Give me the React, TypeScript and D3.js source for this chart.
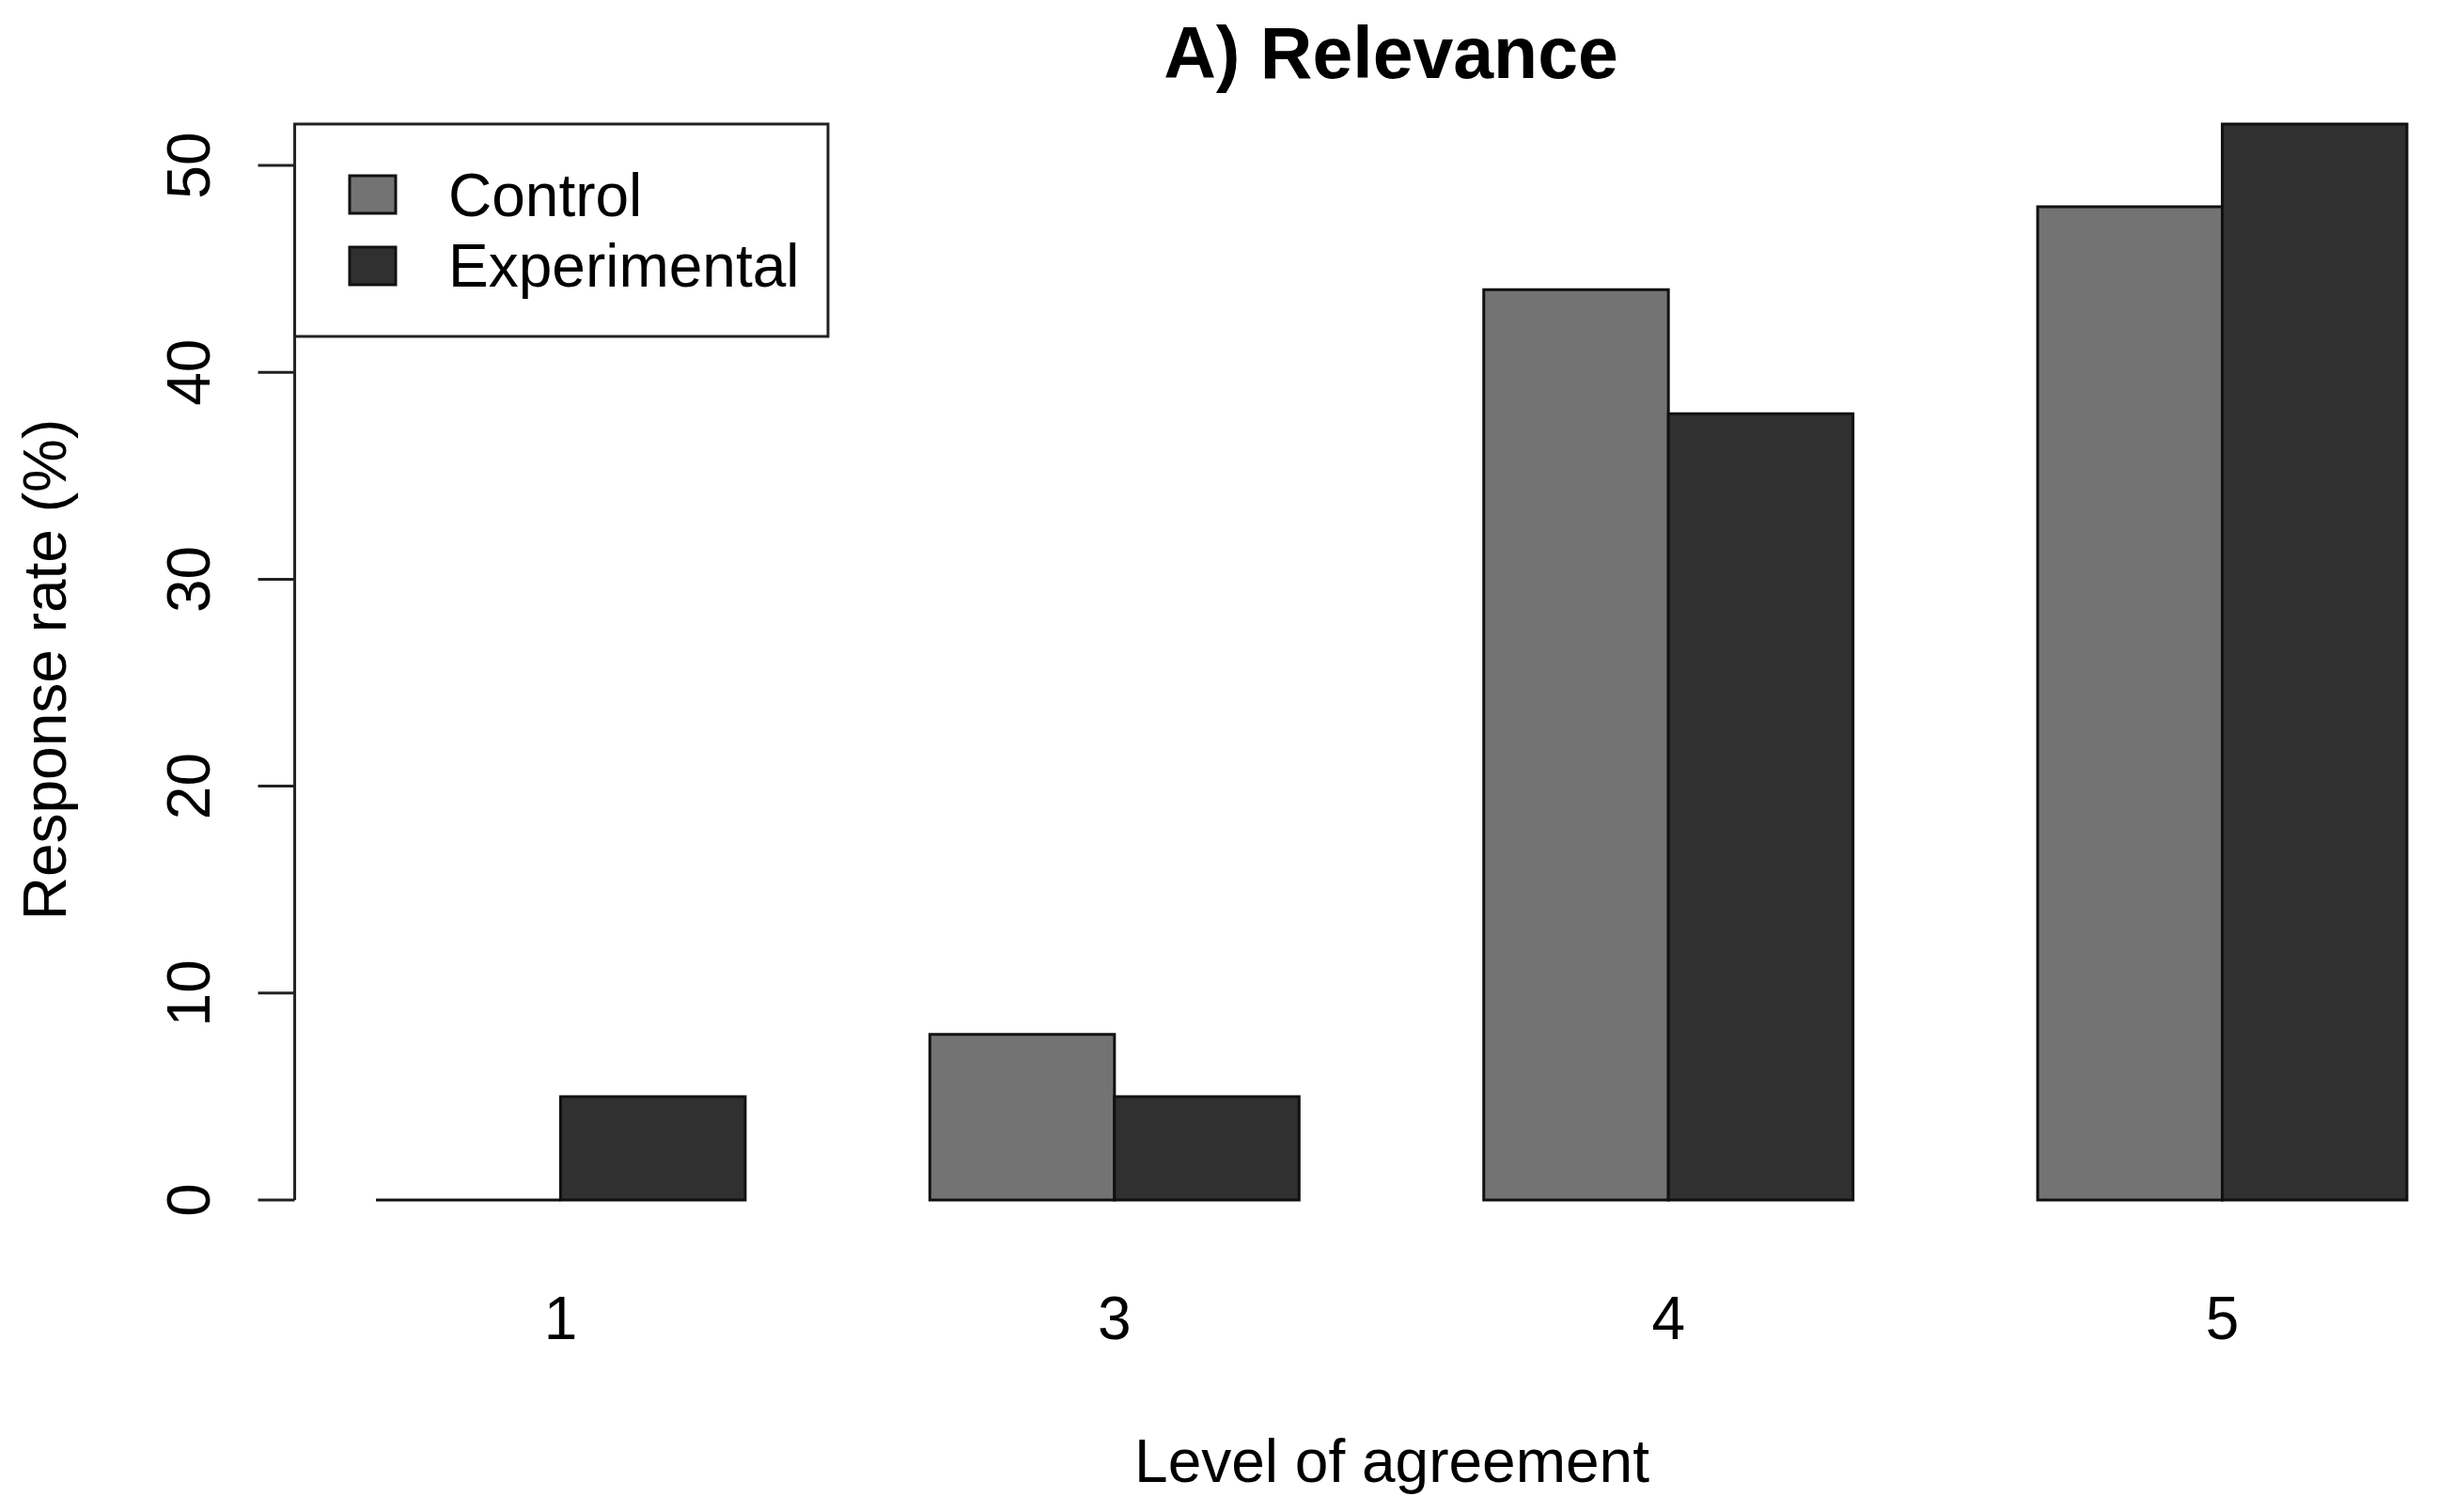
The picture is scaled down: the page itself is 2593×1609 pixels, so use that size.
import React from "react";
import * as d3 from "d3";

const categories = ["1", "3", "4", "5"];
const controlValues = [0, 8, 44, 48];
const experimentalValues = [5, 5, 38, 52];
const seriesNames = ["Control", "Experimental"];
const seriesColors = ["#737373", "#303030"];
const yTicks = [0, 10, 20, 30, 40, 50];

const W = 2593;
const H = 1609;

export default function App() {
  const series = [controlValues, experimentalValues];
  // R-style barplot units: each group = 2 bars of width 1, space of 1 before each group
  const groupStart = (i: number) => 1 + i * 3;
  const x = d3.scaleLinear().domain([1, 12]).range([400, 2561]);
  const xAxisPos = x(1 - 0.04 * 11);
  const y = d3.scaleLinear().domain([0, 52]).range([1277, 132]);
  const font = "'Liberation Sans', Arial, Helvetica, sans-serif";
  const fs = 64;

  const bars: JSX.Element[] = [];
  categories.forEach((c, i) => {
    series.forEach((vals, s) => {
      const x0 = x(groupStart(i) + s);
      const x1 = x(groupStart(i) + s + 1);
      const v = vals[i];
      const p = d3.path();
      p.moveTo(x0, y(0));
      p.lineTo(x1, y(0));
      p.lineTo(x1, y(v));
      p.lineTo(x0, y(v));
      p.closePath();
      bars.push(
        <path
          key={`${c}-${s}`}
          d={p.toString()}
          fill={seriesColors[s]}
          stroke="#111"
          strokeWidth={3}
          strokeLinejoin="miter"
        />
      );
    });
  });

  const legendX0 = xAxisPos;
  const legendY0 = y(52);
  return (
    <svg width={W} height={H} style={{ display: "block", position: "absolute", left: 0, top: 0, background: "#fff" }} fontFamily={font}>
      <rect x={0} y={0} width={W} height={H} fill="#fff" />
      {/* title */}
      <text x={1480} y={83} textAnchor="middle" fontSize={77} fontWeight="bold" fill="#000">A) Relevance</text>
      {/* bars */}
      {bars}
      {/* y axis */}
      <line x1={xAxisPos} x2={xAxisPos} y1={y(0)} y2={y(50)} stroke="#222" strokeWidth={3} />
      {yTicks.map((t) => (
        <g key={t}>
          <line x1={xAxisPos - 39} x2={xAxisPos} y1={y(t)} y2={y(t)} stroke="#222" strokeWidth={3} />
          <text
            transform={`translate(223, ${y(t)}) rotate(-90)`}
            textAnchor="middle"
            fontSize={fs}
            fill="#000"
          >
            {t}
          </text>
        </g>
      ))}
      {/* x labels */}
      {categories.map((c, i) => (
        <text key={c} x={x(groupStart(i) + 1)} y={1425} textAnchor="middle" fontSize={fs} fill="#000">
          {c}
        </text>
      ))}
      {/* axis titles */}
      <text x={1481} y={1577} textAnchor="middle" fontSize={fs} fill="#000">Level of agreement</text>
      <text transform={`translate(70, ${(y(0) + y(52)) / 2 + 8}) rotate(-90)`} textAnchor="middle" fontSize={fs} fill="#000">
        Response rate (%)
      </text>
      {/* legend */}
      <rect x={legendX0} y={legendY0} width={881 - legendX0} height={358 - legendY0} fill="#fff" stroke="#222" strokeWidth={3} />
      {seriesNames.map((n, i) => (
        <g key={n}>
          <rect x={372} y={187 + i * 76} width={49} height={40} fill={seriesColors[i]} stroke="#111" strokeWidth={3} />
          <text x={477} y={230 + i * 75} fontSize={fs} fill="#000">{n}</text>
        </g>
      ))}
    </svg>
  );
}
